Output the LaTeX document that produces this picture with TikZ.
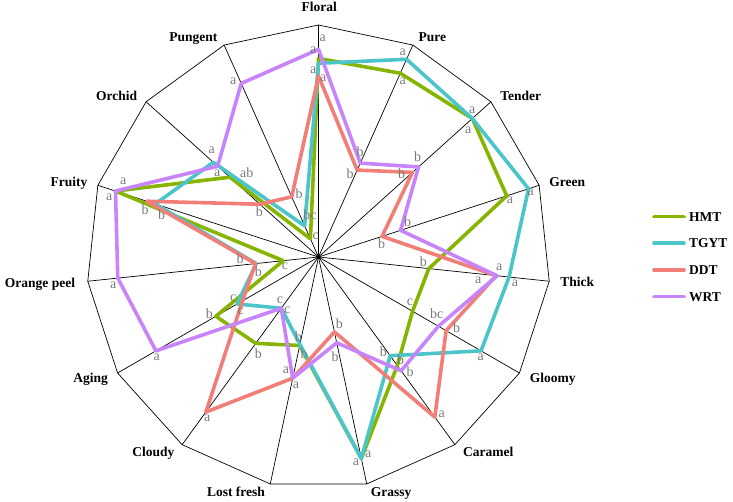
\documentclass[tikz,border=0pt]{standalone}
\usepackage{fontspec}
\setmainfont{Liberation Serif}
\usepackage{tikz}
\usetikzlibrary{calc}

\definecolor{hmtc}{HTML}{86B400}
\definecolor{tgytc}{HTML}{4CC5CA}
\definecolor{ddtc}{HTML}{F17F78}
\definecolor{wrtc}{HTML}{C884FA}
\definecolor{letc}{HTML}{7A7A7A}

\begin{document}
\begin{tikzpicture}[x=1pt, y=-1pt,
    grid/.style={black, line width=0.7pt},
    serie/.style={line width=3.6pt, line join=round},
    legline/.style={line width=3.6pt, line cap=round},
    axlab/.style={font=\fontsize{13.5}{15}\selectfont\bfseries, inner sep=0pt, text height=9.2pt, text depth=0pt},
    lettr/.style={font=\fontsize{14}{15}\selectfont, text=letc, inner sep=0pt}]
    \useasboundingbox (0,0) rectangle (733,502);
    \coordinate (c) at (318.5,257);
    % axes and outer polygon
    \foreach \i in {0,...,14}
        \coordinate (v\i) at ($(c)+({232*sin(24*\i)},{-232*cos(24*\i)})$);
    \foreach \i in {0,...,14}
        \draw [grid] (c) -- (v\i);
    \draw [grid] (v0) \foreach \i in {1,...,14}{-- (v\i)} -- cycle;
    % the four teas
    \foreach \v [count=\i from 0] in {0.856,0.867,0.892,0.853,0.478,0.468,0.578,0.888,0.39,0.46,0.511,0.153,0.92,0.514,0.086}
        \coordinate (h\i) at ($(c)+({232*\v*sin(24*\i)},{-232*\v*cos(24*\i)})$);
    \foreach \v [count=\i from 0] in {0.835,0.933,0.892,0.952,0.826,0.809,0.526,0.888,0.385,0.273,0.405,0.27,0.74,0.61,0.147}
        \coordinate (t\i) at ($(c)+({232*\v*sin(24*\i)},{-232*\v*cos(24*\i)})$);
    \foreach \v [count=\i from 0] in {0.78,0.41,0.545,0.288,0.77,0.635,0.853,0.33,0.534,0.826,0.378,0.273,0.778,0.34,0.284}
        \coordinate (d\i) at ($(c)+({232*\v*sin(24*\i)},{-232*\v*cos(24*\i)})$);
    \foreach \v [count=\i from 0] in {0.895,0.443,0.58,0.372,0.774,0.597,0.606,0.378,0.534,0.273,0.809,0.87,0.92,0.585,0.819}
        \coordinate (w\i) at ($(c)+({232*\v*sin(24*\i)},{-232*\v*cos(24*\i)})$);
    \draw [serie, hmtc] (h0) \foreach \i in {1,...,14}{-- (h\i)} -- cycle;
    \draw [serie, tgytc] (t0) \foreach \i in {1,...,14}{-- (t\i)} -- cycle;
    \draw [serie, ddtc] (d0) \foreach \i in {1,...,14}{-- (d\i)} -- cycle;
    \draw [serie, wrtc] (w0) \foreach \i in {1,...,14}{-- (w\i)} -- cycle;
    \fill (c) circle (2pt);
    % significance letters
    \foreach \x/\y/\t [count=\k] in {322.7/38.3/a, 313.3/50/a, 313.3/70/a, 323.3/78.3/a,
            402.7/52.7/a, 402.7/81.7/a, 360/151.7/b, 350/173.3/b,
            472.3/110/a, 468.3/130/a, 417.7/156.7/b, 401.7/173.3/b,
            530.7/192.7/a, 510/200/a, 407.7/221.7/b, 381.7/243.3/b,
            499.3/267.3/a, 478.3/280/a, 515/283.3/a, 423.3/261.7/b,
            480.7/357.3/a, 456.7/327.7/b, 436.7/314/bc, 410/302.7/c,
            441.7/414/a, 383.3/351.7/b, 400.7/360/b, 410/371.7/b,
            356/462.7/a, 368.3/454/a, 339.3/324/b, 335/356.7/b,
            286/370.7/a, 296/385/a, 298.3/336.7/b, 304/354/b,
            207.3/418.3/a, 258.3/354/b, 280/300/c, 287.3/310.7/c,
            156.7/357.3/a, 209.3/313.3/b, 233.3/298.3/c, 240.7/311/c,
            113.3/285/a, 240/258.3/b, 258.3/271.7/b, 285/266/c,
            123.3/181.7/a, 109.3/197.3/a, 145/210/b, 161.7/215/b,
            211.7/150.7/a, 217.3/173.3/a, 246.7/172.7/ab, 259.3/211.7/b,
            233.3/81/a, 299/193.3/b, 310/214.3/bc, 315.7/236.7/c}
        \node [lettr] (g\k) at (\x,\y) {\t};
    % attribute names
    \foreach \x/\y/\t [count=\k] in {319.3/7.3/Floral, 432.3/36.7/Pure, 520.7/96/Tender,
            567.3/182.3/Green, 577.3/282.3/Thick, 552.7/377.7/Gloomy, 488.3/451.7/Caramel,
            391/492.3/Grassy, 236/491.7/Lost fresh, 153.3/451.7/Cloudy, 90.7/377.7/Aging,
            40/282.7/Orange peel, 69/182.3/Fruity, 116.7/95.7/Orchid, 193.3/36.7/Pungent}
        \node [axlab] (a\k) at (\x,\y) {\t};
    % legend
    \node [axlab, anchor=west] (lh) at (689,216.7) {HMT};
    \node [axlab, anchor=west] (lt) at (689,243.3) {TGYT};
    \node [axlab, anchor=west] (ld) at (689,270) {DDT};
    \node [axlab, anchor=west] (lw) at (689,296.7) {WRT};
    \coordinate (lh0) at (654,216.7);
    \coordinate (lt0) at (654,243.3);
    \coordinate (ld0) at (654,270);
    \coordinate (lw0) at (654,296.7);
    \draw [legline, hmtc] (lh0) -- ([xshift=-5pt]lh.west);
    \draw [legline, tgytc] (lt0) -- ([xshift=-5pt]lt.west);
    \draw [legline, ddtc] (ld0) -- ([xshift=-5pt]ld.west);
    \draw [legline, wrtc] (lw0) -- ([xshift=-5pt]lw.west);
\end{tikzpicture}
\end{document}
